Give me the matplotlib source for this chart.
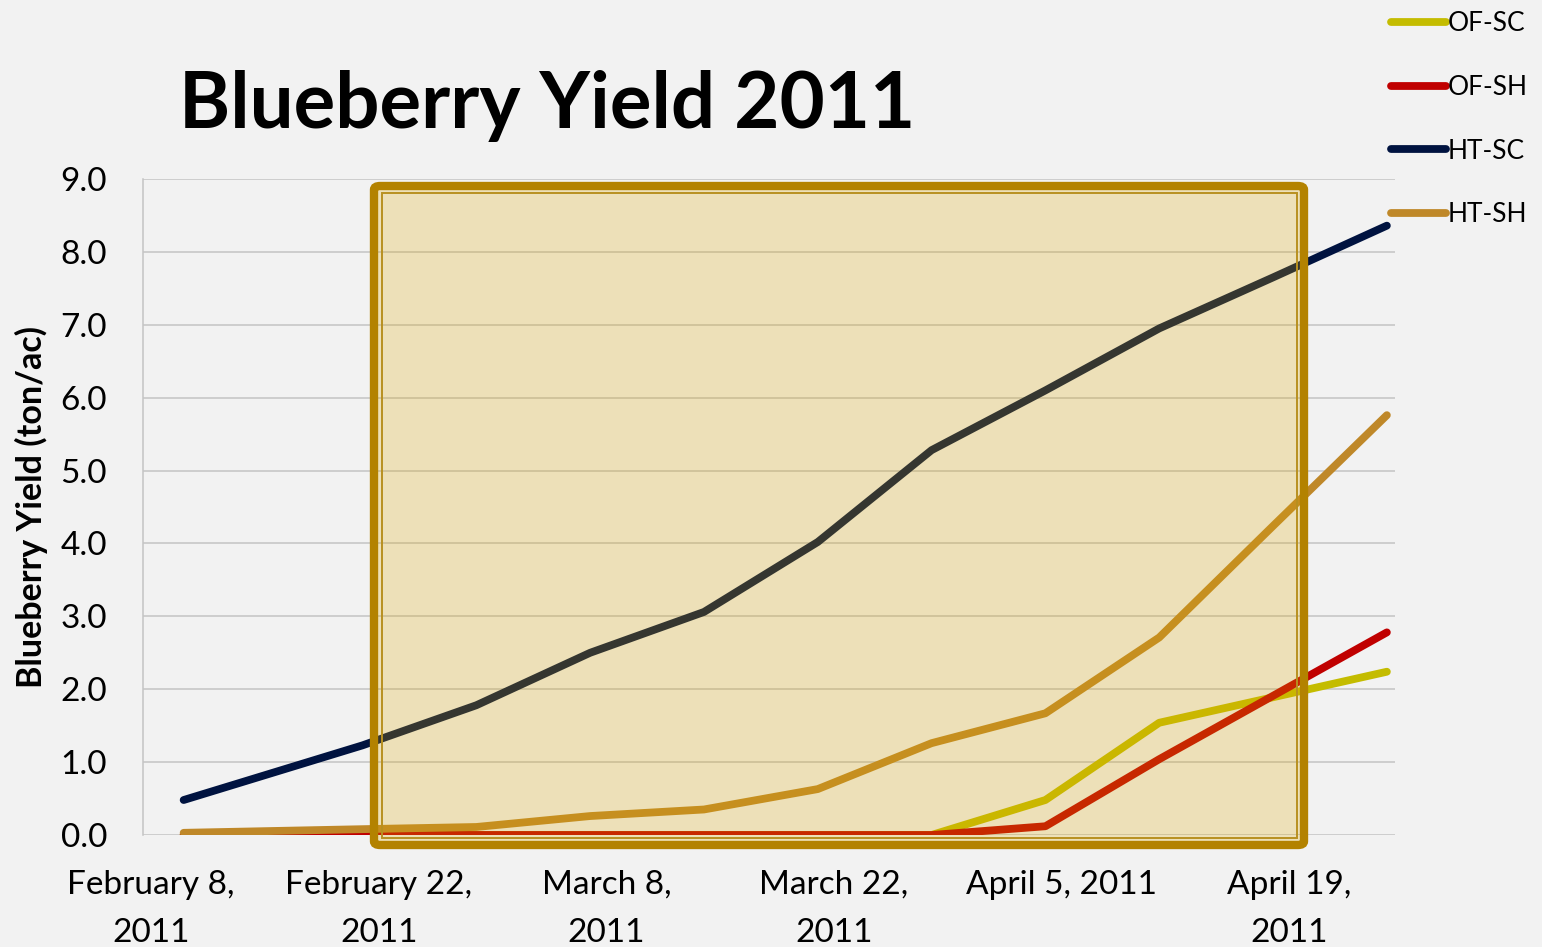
import matplotlib
matplotlib.use("Agg")
import matplotlib.pyplot as plt
import matplotlib.dates as mdates
from matplotlib.patches import FancyBboxPatch, Rectangle
import numpy as np
import datetime as dt

# ---------------- data ----------------
dates = ["2011-02-10", "2011-02-21", "2011-02-28", "2011-03-07", "2011-03-14",
         "2011-03-21", "2011-03-28", "2011-04-04", "2011-04-11", "2011-04-18",
         "2011-04-25"]
of_sc = [0, 0, 0, 0, 0, 0, 0, 0.48, 1.54, 1.89, 2.24]
of_sh = [0, 0, 0, 0, 0, 0, 0, 0.12, 1.04, 1.91, 2.78]
ht_sc = [0.48, 1.23, 1.78, 2.50, 3.06, 4.02, 5.28, 6.10, 6.95, 7.65, 8.36]
ht_sh = [0.03, 0.08, 0.11, 0.26, 0.35, 0.63, 1.26, 1.67, 2.71, 4.24, 5.76]
series_names = ["OF-SC", "OF-SH", "HT-SC", "HT-SH"]
series_colors = ["#C4BC00", "#C00000", "#001340", "#BF8829"]
tick_dates = ["2011-02-08", "2011-02-22", "2011-03-08", "2011-03-22",
              "2011-04-05", "2011-04-19"]
tick_labels = ["February 8,\n2011", "February 22,\n2011", "March 8,\n2011",
               "March 22,\n2011", "April 5, 2011", "April 19,\n2011"]
y_ticks = [0, 1, 2, 3, 4, 5, 6, 7, 8, 9]
title = "Blueberry Yield 2011"
ylabel = "Blueberry Yield (ton/ac)"

# ---------------- figure ----------------
W, H = 1542, 947
DPI = 100
BG = "#F2F2F2"
plt.rcParams["font.family"] = ["Lato", "DejaVu Sans"]

fig = plt.figure(figsize=(W / DPI, H / DPI), dpi=DPI, facecolor=BG)

def fx(px):
    return px / W

def fy(py):
    return 1 - py / H

ax_l, ax_r, ax_b, ax_t = 143, 1395, 835, 179
ax = fig.add_axes([fx(ax_l), fy(ax_b), fx(ax_r - ax_l), (ax_b - ax_t) / H])
ax.set_facecolor(BG)

x = [mdates.date2num(dt.datetime.strptime(d, "%Y-%m-%d")) for d in dates]
for vals, name, col in zip([of_sc, of_sh, ht_sc, ht_sh], series_names, series_colors):
    ax.plot(x, vals, color=col, lw=5.6, solid_capstyle="round",
            solid_joinstyle="round", label=name, zorder=3)

xt = [mdates.date2num(dt.datetime.strptime(d, "%Y-%m-%d")) for d in tick_dates]
ax.set_xlim(xt[0] - 0.5, x[-1] + 0.5)
ax.set_ylim(0, 9)
ax.set_xticks(xt)
ax.set_xticklabels(tick_labels, fontsize=24, linespacing=1.75)
ax.set_yticks(y_ticks)
ax.set_yticklabels([f"{v:.1f}" for v in y_ticks], fontsize=24)
ax.tick_params(axis="x", length=0, pad=25)
ax.tick_params(axis="y", length=0, pad=26)
ax.grid(axis="y", color="#C4C4C4", lw=1.1, zorder=1)
ax.set_axisbelow(True)
for s in ["top", "right", "bottom"]:
    ax.spines[s].set_visible(False)
ax.spines["left"].set_color("#C4C4C4")
ax.spines["left"].set_linewidth(1.1)

fig.text(fx(31), fy(507), ylabel, rotation=90, ha="center", va="center",
         fontsize=24.5, fontweight="bold")
fig.text(fx(179), fy(128), title, ha="left", va="baseline",
         fontsize=56.2, fontweight="bold")

leg = ax.legend(loc="upper left", bbox_to_anchor=(fx(1391), fy(11)),
                bbox_transform=fig.transFigure, frameon=False, fontsize=19,
                handlelength=2.1, handletextpad=0.05, labelspacing=1.47,
                borderaxespad=0, borderpad=0)

# ---------------- highlight box ----------------
fill = Rectangle((fx(372), fy(847)), fx(1306 - 372), (847 - 184) / H,
                 transform=fig.transFigure, facecolor=(222 / 255, 168 / 255, 0),
                 alpha=0.24, edgecolor="none", zorder=5)
fig.add_artist(fill)
outer = FancyBboxPatch((fx(374), fy(845)), fx(1304 - 374), (845 - 186) / H,
                       boxstyle="round,pad=0,rounding_size=0.004",
                       transform=fig.transFigure, facecolor="none",
                       edgecolor="#B38200", lw=6.0, zorder=6)
fig.add_artist(outer)
inner = Rectangle((fx(382), fy(838)), fx(1297 - 382), (838 - 193) / H,
                  transform=fig.transFigure, facecolor="none",
                  edgecolor="#B89020", lw=1.4, zorder=6)
fig.add_artist(inner)

fig.savefig("out.png", dpi=DPI, facecolor=BG)
